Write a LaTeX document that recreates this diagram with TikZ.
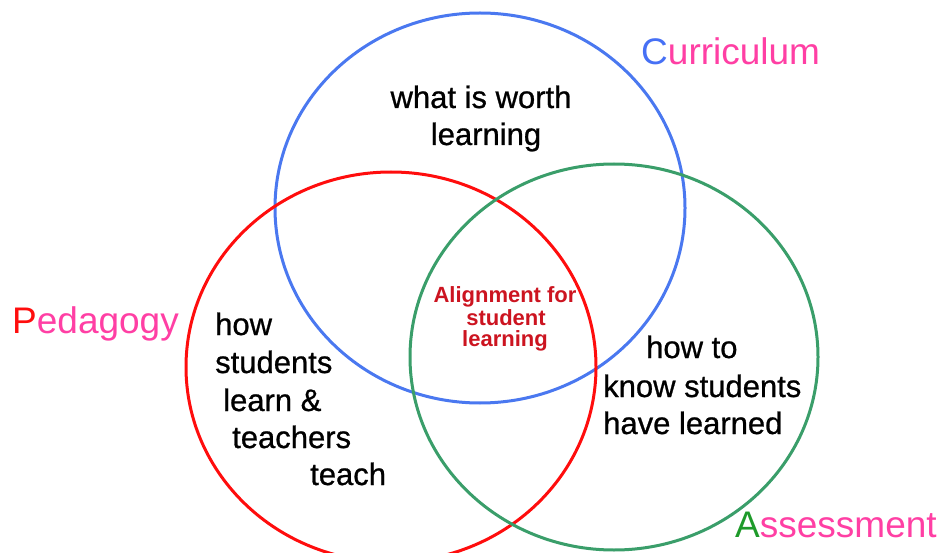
\documentclass[tikz,border=0pt]{standalone}
\usepackage{fontspec}
\setmainfont{Liberation Sans}
\newfontfamily\bodyfont[FakeBold=0.8]{Liberation Sans}
\definecolor{cblue}{HTML}{4A78F0}
\definecolor{cred}{HTML}{FF0D0D}
\definecolor{cgreen}{HTML}{3A9E6A}
\definecolor{pinkt}{HTML}{FF3FA4}
\definecolor{bluet}{HTML}{4670F5}
\definecolor{greent}{HTML}{1E9A2A}
\definecolor{alignred}{HTML}{CC1420}
\begin{document}
\begin{tikzpicture}[x=1pt,y=-1pt,
  ring/.style={line width=3pt},
  body/.style={inner sep=0pt,font=\bodyfont\fontsize{31}{37}\selectfont,text=black},
  ttl/.style={inner sep=0pt,anchor=base west,font=\fontsize{37}{44}\selectfont},
  mid/.style={inner sep=0pt,anchor=base,font=\fontsize{22}{22}\selectfont\bfseries,text=alignred}]
\useasboundingbox (0,0) rectangle (939,553);
% circles
\draw[ring,cblue] (480,208) ellipse [x radius=205,y radius=195];
\draw[ring,cred] (391,367) ellipse [x radius=205,y radius=195];
\draw[ring,cgreen] (614,357) ellipse [x radius=204,y radius=193];
% titles
\node[ttl] (curr) at (641,65) {\textcolor{bluet}{C}\textcolor{pinkt}{urriculum}};
\node[ttl] (peda) at (12,333) {\textcolor{cred}{P}\textcolor{pinkt}{edagogy}};
\node[ttl] (asse) at (735,537) {\textcolor{greent}{A}\textcolor{pinkt}{ssessment}};
% curriculum text
\node[body,anchor=base] (w1) at (481,108) {what is worth};
\node[body,anchor=base] (w2) at (486,145) {learning};
% pedagogy text
\node[body,anchor=base west] (p1) at (215,335) {how};
\node[body,anchor=base west] (p2) at (215,373) {students};
\node[body,anchor=base west] (p3) at (223,411) {learn \&};
\node[body,anchor=base west] (p4) at (232,448) {teachers};
\node[body,anchor=base west] (p5) at (310,485) {teach};
% assessment text
\node[body,anchor=base west] (a1) at (646,358) {how to};
\node[body,anchor=base west] (a2) at (603,397) {know students};
\node[body,anchor=base west] (a3) at (603,434) {have learned};
% centre
\node[mid] (m1) at (505,302) {Alignment for};
\node[mid] (m2) at (506,325) {student};
\node[mid] (m3) at (505,346) {learning};
\end{tikzpicture}
\end{document}
